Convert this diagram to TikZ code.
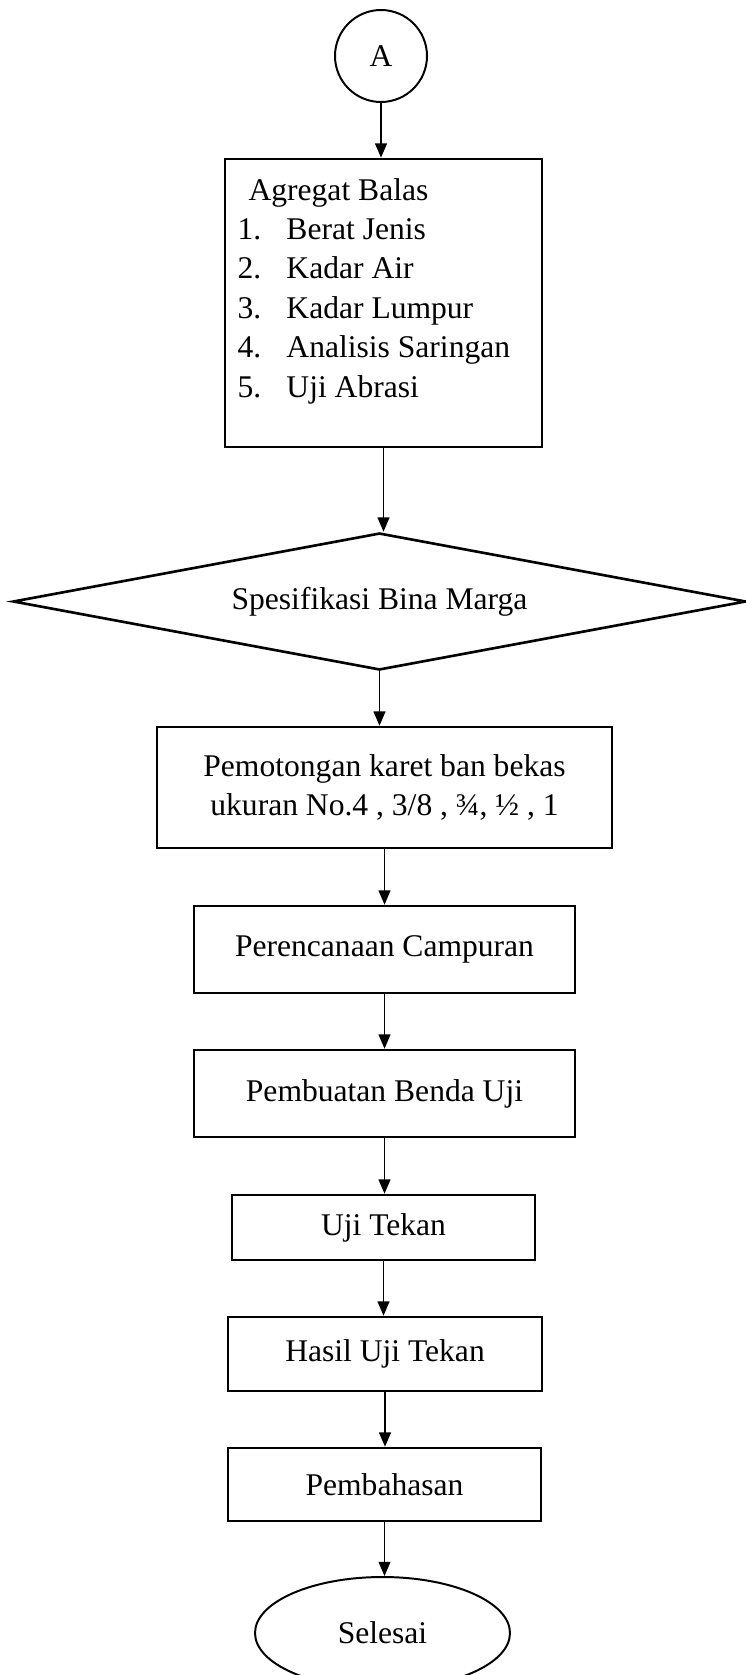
\documentclass[tikz,border=0pt]{standalone}
\usepackage{fontspec}
\setmainfont{Liberation Serif}
\usetikzlibrary{arrows.meta,positioning,shapes.geometric}
\newlength\pxu
\setlength\pxu{0.38pt}

\begin{document}
\begin{tikzpicture}[x=0.38pt,y=-0.38pt,
  font=\fontsize{12}{15}\selectfont,
  box/.style={draw,line width=1pt,inner sep=0pt,align=center},
  flow/.style={-{Triangle[width=4.5pt,length=5.4pt]},line width=0.5pt}]
\useasboundingbox (0,0) rectangle (746,1675);
\node[circle,draw,line width=0.75pt,minimum size=92\pxu,inner sep=0pt] (a) at (381,56) {A};
\node[box,minimum width=317\pxu,minimum height=288\pxu] (balas) at (383.5,303) {};
\node[anchor=base west,inner sep=0pt] (balaslist) at (237,200) {%
  \begin{tabular}[t]{@{}p{18.6pt}@{}l@{}}
  \multicolumn{2}{@{\hspace{4.2pt}}l@{}}{Agregat Balas}\\
  1. & Berat Jenis\\
  2. & Kadar Air\\
  3. & Kadar Lumpur\\
  4. & Analisis Saringan\\
  5. & Uji Abrasi
  \end{tabular}};
\node[diamond,draw,line width=1pt,shape aspect=5.35,minimum width=733\pxu,minimum height=137\pxu,inner sep=0pt] (spek) at (379.5,601.5) {Spesifikasi Bina Marga};
\node[box,minimum width=455\pxu,minimum height=121\pxu] (potong) at (384.5,787.5) {Pemotongan karet ban bekas\\ukuran No.4 , 3/8 , ¾, ½ , 1};
\node[box,minimum width=381\pxu,minimum height=87\pxu] (rencana) at (384.5,949.5) {Perencanaan Campuran};
\node[box,minimum width=381\pxu,minimum height=87\pxu] (benda) at (384.5,1093.5) {Pembuatan Benda Uji};
\node[box,minimum width=303\pxu,minimum height=65\pxu] (tekan) at (383.5,1227.5) {Uji Tekan};
\node[box,minimum width=314\pxu,minimum height=74\pxu] (hasil) at (385,1354) {Hasil Uji Tekan};
\node[box,minimum width=313\pxu,minimum height=73\pxu] (bahas) at (384.5,1484.5) {Pembahasan};
\node[ellipse,draw,line width=0.75pt,minimum width=255\pxu,minimum height=112\pxu,inner sep=0pt] (selesai) at (382.5,1633) {Selesai};
% arrows
\draw[flow] (a.south) -- (a.south |- balas.north);
\draw[flow] (balas.south) -- (balas.south |- spek.north);
\draw[flow] (spek.south) -- (spek.south |- potong.north);
\draw[flow] (potong.south) -- (potong.south |- rencana.north);
\draw[flow] (rencana.south) -- (rencana.south |- benda.north);
\draw[flow] (benda.south) -- (benda.south |- tekan.north);
\draw[flow] (tekan.south) -- (tekan.south |- hasil.north);
\draw[flow] (hasil.south) -- (hasil.south |- bahas.north);
\draw[flow] (bahas.south) -- (bahas.south |- selesai.north);
\end{tikzpicture}
\end{document}
